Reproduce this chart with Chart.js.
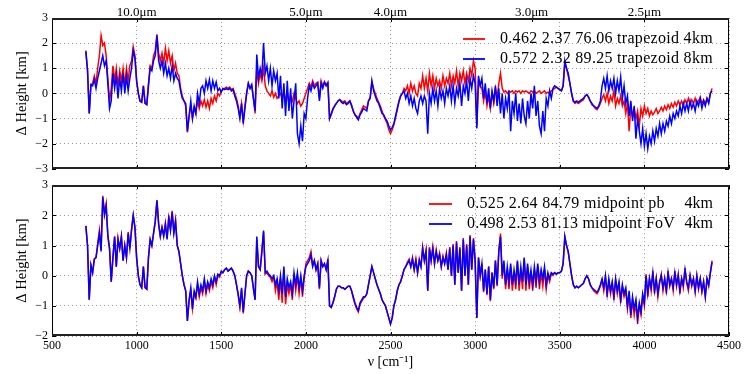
<!DOCTYPE html>
<html><head><meta charset="utf-8">
<script src="https://cdn.jsdelivr.net/npm/chart.js@4/dist/chart.umd.min.js"></script>
<style>
html,body{margin:0;padding:0;background:#fff;}
#wrap{position:relative;width:747px;height:374px;background:#fff;overflow:hidden;}
#c1{position:absolute;left:0;top:0;width:747px;height:180px;}
#c2{position:absolute;left:0;top:174px;width:747px;height:200px;}
</style></head><body>
<div id="wrap"><canvas id="c1" width="747" height="180"></canvas><canvas id="c2" width="747" height="200"></canvas></div>
<script>
// sampling grid of wavenumbers [cm^-1]
const wavenumbers = Array.from({length: 371}, (_, i) => 700 + 10 * i);
// top axis: wavelength ticks [um]
const micronTicks = [10.0, 5.0, 4.0, 3.0, 2.5];

// Top panel
const topRedLabel = '0.462 2.37 76.06 trapezoid 4km';
const topRed = [
 1.65,0.9,-0.8,0.35,0.4,0.7,0.4,1.0,1.5,2.3,
 1.9,2.0,1.5,0.6,-0.3,0.2,1.1,0.5,1.0,0.3,
 0.9,0.5,1.0,0.3,1.0,0.5,1.1,1.3,1.85,1.5,
 0.5,0.0,-0.3,-0.35,0.3,-0.4,-0.45,0.4,1.1,1.0,
 1.5,1.7,2.35,1.6,1.3,1.6,1.2,1.8,1.3,1.7,
 1.2,1.5,0.9,1.2,0.8,0.7,0.2,-0.1,-0.3,-0.5,
 -1.55,-0.9,-0.5,-1.0,-0.6,-0.8,-0.3,-0.6,-0.3,-0.5,
 -0.25,-0.55,-0.3,-0.6,-0.2,-0.4,-0.1,-0.3,0.0,-0.1,
 0.1,0.15,0.2,0.25,0.2,0.25,0.15,0.2,0.0,-0.2,
 -0.5,-0.9,-0.4,-1.1,-0.5,0.0,0.4,0.2,0.3,-0.2,
 -0.8,1.0,0.4,0.8,0.5,1.0,0.3,0.1,0.0,-0.1,
 0.1,-0.15,0.0,-0.2,-0.1,0.0,-0.2,0.1,-0.3,0.0,
 -0.4,-0.1,-0.3,0.0,-0.2,-0.4,-0.3,-0.5,-0.4,-0.2,
 0.0,0.2,0.4,0.25,0.5,0.3,0.4,0.45,-0.2,0.5,
 0.3,0.45,0.35,0.45,-1.0,-0.85,-0.65,-0.5,-0.4,-0.3,
 -0.25,-0.3,-0.35,-0.3,-0.4,-0.35,-0.3,-0.45,-0.7,-0.85,
 -0.9,-1.0,-0.8,-0.65,-0.5,-0.55,-0.6,-0.3,-0.15,0.45,
 0.2,0.0,-0.2,-0.35,-0.5,-0.7,-0.9,-1.05,-1.2,-1.45,
 -1.6,-1.45,-1.25,-0.95,-0.65,-0.35,-0.1,0.0,0.2,0.1,
 0.3,0.0,0.4,0.1,0.3,0.0,-0.1,0.4,0.2,0.7,
 0.2,0.6,0.1,0.8,0.3,0.7,0.2,0.6,0.3,0.5,
 0.2,0.7,0.3,0.6,0.4,0.8,0.3,0.7,0.4,0.9,
 0.3,0.8,0.5,0.9,0.4,0.8,0.5,1.0,0.7,1.3,
 1.0,-1.3,0.5,0.3,0.2,-0.3,0.1,-0.5,-0.1,-0.6,
 0.0,-0.4,0.2,-0.2,0.4,0.8,0.2,0.05,0.1,0.0,
 0.1,0.05,0.1,0.0,0.1,0.05,0.1,0.0,0.1,0.05,
 0.1,0.05,0.0,0.1,0.05,0.1,0.0,0.05,0.1,0.0,
 0.05,0.1,0.0,0.05,0.0,0.1,0.15,0.2,0.25,0.2,
 0.15,0.1,0.3,1.2,1.0,0.7,0.4,0.0,-0.3,-0.4,
 -0.35,-0.4,-0.35,-0.3,-0.25,-0.1,-0.05,-0.15,-0.3,-0.45,
 -0.5,-0.6,-0.65,-0.55,-0.4,-0.2,-0.05,-0.3,0.0,-0.4,
 -0.1,-0.3,0.1,-0.5,-0.2,-0.4,-0.1,-0.5,-0.3,-0.8,
 -0.4,-1.5,-0.5,-0.9,-0.6,-1.0,-0.7,-1.3,-0.6,-0.9,
 -0.5,-0.8,-0.6,-0.9,-0.7,-0.85,-0.75,-0.6,-0.8,-0.7,
 -0.55,-0.7,-0.5,-0.65,-0.45,-0.6,-0.4,-0.55,-0.35,-0.5,
 -0.3,-0.45,-0.3,-0.5,-0.25,-0.4,-0.2,-0.45,-0.25,-0.4,
 -0.2,-0.45,-0.3,-0.15,-0.4,-0.25,-0.4,-0.2,-0.35,0.0,
 0.2
];
const topBlueLabel = '0.572 2.32 89.25 trapezoid 8km';
const topBlue = [
 1.7,0.9,-0.8,0.35,0.3,0.55,0.2,0.6,0.9,1.2,
 1.5,1.1,1.3,0.4,-0.6,-0.3,0.8,0.2,0.7,-0.2,
 0.6,0.1,0.8,0.0,0.7,0.1,0.6,1.0,1.7,1.4,
 0.5,0.0,-0.3,-0.35,0.3,-0.4,-0.45,0.3,1.0,0.9,
 1.3,1.5,2.3,1.3,1.0,1.3,0.8,1.2,0.7,1.0,
 0.6,1.1,0.5,0.8,0.6,0.5,0.1,-0.2,-0.3,-0.4,
 -1.5,-0.9,-0.3,-1.0,-0.5,-0.8,0.0,-0.4,0.2,0.3,
 0.0,0.5,0.2,0.55,0.1,0.5,0.2,0.45,0.1,0.2,
 0.05,0.2,0.15,0.2,0.15,0.2,0.1,0.15,-0.1,-0.3,
 -0.6,-1.0,-0.4,-1.2,-0.6,0.0,0.4,0.2,0.35,-0.2,
 -0.7,1.55,0.6,1.0,0.7,2.0,0.8,1.1,0.5,1.0,
 0.3,0.9,0.5,0.8,-0.2,0.7,-0.6,0.4,-0.9,0.5,
 -0.7,0.2,-1.0,-0.3,0.4,-1.6,-2.0,-1.3,-1.9,-0.8,
 -1.0,-0.2,0.3,0.1,0.4,0.2,0.3,0.4,-0.3,0.4,
 0.2,0.45,0.3,0.4,-1.0,-0.8,-0.6,-0.5,-0.4,-0.3,
 -0.25,-0.35,-0.4,-0.35,-0.45,-0.4,-0.3,-0.5,-0.7,-0.85,
 -0.95,-1.05,-0.85,-0.75,-0.6,-0.65,-0.7,-0.3,-0.2,0.5,
 0.1,-0.1,-0.3,-0.4,-0.6,-0.8,-0.85,-1.0,-1.1,-1.3,
 -1.45,-1.35,-1.2,-0.9,-0.6,-0.3,-0.1,0.0,0.1,-0.2,
 0.0,-0.4,-0.1,-0.5,-0.2,-0.6,-0.8,-0.3,-0.1,-0.4,
 -0.1,-0.3,-1.6,0.0,-0.4,0.2,-0.3,0.1,-0.5,0.2,
 -0.2,0.1,-0.4,0.2,-0.1,0.3,-0.3,0.3,-0.4,0.2,
 -0.1,0.4,-0.5,0.3,0.0,0.5,-0.3,0.6,0.2,0.7,
 0.4,-1.4,0.7,0.3,0.6,-0.2,0.4,-0.4,0.2,-0.6,
 0.1,-0.3,0.3,-0.5,0.2,-0.8,0.0,-1.0,-0.2,-0.6,
 0.1,-1.5,-0.3,-0.8,0.0,-1.1,-0.4,-1.2,-0.2,-0.9,
 -1.2,-0.3,-1.0,0.0,-0.6,0.3,-0.9,-0.3,-1.3,-1.6,
 -0.7,-1.5,-0.2,-0.5,0.1,-0.2,0.2,0.3,0.25,0.2,
 0.15,0.1,0.3,1.3,1.0,0.8,0.4,0.0,-0.3,-0.35,
 -0.3,-0.35,-0.3,-0.25,-0.2,-0.1,-0.05,-0.15,-0.3,-0.4,
 -0.5,-0.55,-0.6,-0.5,-0.3,0.3,0.6,0.2,0.7,0.1,
 0.5,0.2,0.6,0.0,0.5,0.1,0.65,-0.2,0.3,-0.4,
 -0.1,-0.9,-0.3,-1.1,-0.5,-1.8,-1.0,-1.5,-2.0,-1.4,
 -2.1,-1.6,-2.2,-1.7,-2.0,-1.5,-1.9,-1.4,-1.7,-1.2,
 -1.6,-1.2,-1.5,-1.1,-1.3,-0.9,-1.2,-0.8,-1.0,-0.7,
 -0.9,-0.5,-0.8,-0.4,-0.7,-0.4,-0.7,-0.3,-0.6,-0.4,
 -0.7,-0.3,-0.5,-0.2,-0.6,-0.3,-0.5,-0.2,-0.4,0.0,
 0.1
];

// Bottom panel
const botRedLabel = '0.525 2.64 84.79 midpoint pb    4km';
const botRed = [
 1.65,1.0,-0.8,0.35,0.1,0.55,0.6,1.05,1.5,0.85,
 2.65,2.1,2.4,1.35,0.9,-0.2,0.6,1.3,0.3,1.25,
 0.9,1.3,0.5,1.0,0.6,1.45,0.9,1.55,2.0,1.6,
 0.6,0.0,-0.3,-0.4,0.3,-0.4,-0.45,0.6,1.2,1.0,
 1.4,1.8,2.5,1.75,1.3,1.6,1.35,1.75,1.25,2.0,
 1.55,2.15,1.45,1.85,1.0,0.8,0.4,0.0,-0.3,-0.5,
 -1.5,-0.85,-0.5,-1.1,-0.6,-0.75,-0.3,-0.7,-0.4,-0.6,
 -0.2,-0.6,-0.3,-0.5,-0.2,-0.4,-0.05,-0.3,0.0,-0.05,
 0.1,0.1,0.2,0.25,0.15,0.2,0.25,0.15,0.0,-0.3,
 -0.65,-1.05,-0.45,-1.25,-0.6,0.0,0.15,0.1,0.0,-0.45,
 -0.8,1.2,0.3,0.2,0.8,1.45,0.05,0.1,0.0,-0.05,
 -0.2,-0.05,-0.5,-0.2,-0.8,-0.1,-0.9,0.2,-0.95,-0.3,
 -0.6,-0.3,-0.8,0.0,-0.5,0.0,-0.6,-0.1,-0.7,-0.1,
 0.4,0.5,0.6,0.8,0.35,0.5,0.2,0.4,-0.45,0.5,
 0.3,0.4,0.2,0.55,-1.0,-1.05,-0.9,-0.7,-0.45,-0.35,
 -0.35,-0.4,-0.4,-0.45,-0.4,-0.35,-0.35,-0.5,-0.75,-0.95,
 -1.1,-1.2,-0.95,-0.85,-0.75,-0.7,-0.6,-0.3,0.0,0.3,
 0.1,-0.1,-0.3,-0.45,-0.6,-0.8,-0.9,-1.0,-1.2,-1.4,
 -1.6,-1.4,-1.0,-0.8,-0.5,-0.3,-0.2,0.0,0.2,0.3,
 0.45,0.55,0.3,0.6,0.2,0.55,0.1,0.55,0.3,0.95,
 0.5,0.85,-0.5,0.95,0.5,0.95,0.4,0.85,0.5,0.75,
 0.3,0.65,0.4,0.75,0.2,0.95,0.0,1.05,-0.3,1.15,
 0.1,0.95,-0.5,1.25,0.0,1.05,-0.3,1.35,0.2,1.25,
 0.5,-1.4,0.6,0.0,0.4,-0.55,0.2,-0.65,0.3,-0.85,
 0.1,-0.45,0.5,-0.35,0.85,1.4,-0.1,0.4,-0.45,0.2,
 -0.45,0.3,-0.5,0.1,-0.45,0.45,-0.5,0.2,-0.45,0.55,
 -0.5,0.3,-0.45,0.1,-0.5,0.2,-0.4,0.3,-0.45,0.1,
 -0.35,0.2,-0.45,0.0,-0.2,0.05,0.0,0.1,0.05,0.1,
 0.1,0.15,0.4,1.3,1.0,0.8,0.4,0.0,-0.3,-0.4,
 -0.35,-0.4,-0.35,-0.3,-0.25,-0.1,0.0,-0.1,-0.3,-0.4,
 -0.5,-0.55,-0.6,-0.5,-0.35,-0.15,-0.5,-0.05,-0.7,-0.2,
 -0.6,-0.25,-0.8,-0.15,-0.6,-0.3,-0.9,-0.35,-0.7,-0.5,
 -1.1,-0.6,-1.4,-0.8,-1.3,-0.9,-1.6,-1.0,-1.3,-0.7,
 -1.0,0.05,-0.7,-0.1,-0.5,0.15,-0.6,-0.1,-0.7,-0.25,
 0.05,-0.5,-0.1,-0.6,0.15,-0.35,-0.1,-0.5,0.15,-0.35,
 0.05,-0.6,-0.1,-0.4,0.25,-0.25,-0.5,0.0,-0.35,-0.1,
 -0.55,0.0,-0.45,-0.1,-0.55,-0.2,-0.7,-0.1,-0.35,0.1,
 0.5
];
const botBlueLabel = '0.498 2.53 81.13 midpoint FoV    4km';
const botBlue = [
 1.65,1.0,-0.8,0.35,0.1,0.55,0.6,1.0,1.4,0.8,
 2.6,2.0,2.3,1.3,0.9,-0.2,0.6,1.3,0.3,1.2,
 0.9,1.3,0.5,1.0,0.6,1.4,0.9,1.5,2.0,1.6,
 0.6,0.0,-0.3,-0.4,0.3,-0.4,-0.45,0.6,1.2,1.0,
 1.4,1.8,2.5,1.7,1.3,1.6,1.3,1.7,1.2,1.9,
 1.5,2.1,1.4,1.8,1.0,0.8,0.4,0.0,-0.3,-0.5,
 -1.5,-0.8,-0.4,-1.1,-0.5,-0.7,-0.2,-0.6,-0.3,-0.5,
 -0.1,-0.5,-0.2,-0.4,-0.1,-0.3,0.0,-0.2,0.05,0.0,
 0.15,0.1,0.2,0.25,0.15,0.2,0.25,0.15,0.0,-0.3,
 -0.6,-1.0,-0.4,-1.2,-0.6,0.0,0.15,0.1,0.0,-0.4,
 -0.8,1.3,0.3,0.2,0.8,1.5,0.1,0.15,0.05,0.0,
 -0.1,0.0,-0.3,-0.1,-0.5,0.0,-0.6,0.3,-0.7,-0.1,
 -0.4,-0.2,-0.6,0.1,-0.3,0.1,-0.4,0.0,-0.5,0.0,
 0.3,0.4,0.5,0.7,0.3,0.5,0.2,0.4,-0.4,0.5,
 0.3,0.4,0.2,0.5,-1.0,-1.05,-0.9,-0.7,-0.45,-0.35,
 -0.35,-0.4,-0.4,-0.45,-0.4,-0.35,-0.35,-0.5,-0.7,-0.9,
 -1.05,-1.15,-0.9,-0.8,-0.7,-0.7,-0.6,-0.3,0.0,0.3,
 0.1,-0.1,-0.3,-0.45,-0.6,-0.8,-0.9,-1.0,-1.2,-1.4,
 -1.6,-1.4,-1.0,-0.8,-0.5,-0.3,-0.2,0.0,0.2,0.3,
 0.4,0.5,0.3,0.55,0.2,0.5,0.1,0.5,0.3,0.9,
 0.5,0.8,-0.5,0.9,0.5,0.9,0.4,0.8,0.5,0.7,
 0.3,0.6,0.4,0.7,0.2,0.9,0.0,1.0,-0.3,1.1,
 0.1,0.9,-0.5,1.2,0.0,1.0,-0.3,1.3,0.2,1.2,
 0.5,-1.4,0.6,0.0,0.4,-0.5,0.2,-0.6,0.3,-0.8,
 0.1,-0.4,0.5,-0.3,0.8,1.3,0.0,0.5,-0.3,0.3,
 -0.2,0.4,-0.3,0.2,-0.2,0.5,-0.3,0.3,-0.2,0.6,
 -0.3,0.4,-0.2,0.2,-0.3,0.3,-0.2,0.4,-0.2,0.2,
 -0.1,0.3,-0.3,0.1,-0.1,0.1,0.05,0.1,0.05,0.1,
 0.1,0.15,0.4,1.3,1.0,0.8,0.4,0.0,-0.3,-0.4,
 -0.35,-0.4,-0.35,-0.3,-0.25,-0.1,0.0,-0.1,-0.3,-0.4,
 -0.45,-0.5,-0.55,-0.45,-0.3,-0.1,-0.4,0.0,-0.6,-0.1,
 -0.5,-0.2,-0.7,-0.1,-0.5,-0.2,-0.8,-0.3,-0.6,-0.4,
 -1.0,-0.5,-1.3,-0.7,-1.1,-0.8,-1.4,-0.9,-1.2,-0.6,
 -0.9,0.0,-0.6,-0.1,-0.4,0.1,-0.5,-0.1,-0.6,-0.2,
 0.0,-0.4,-0.1,-0.5,0.1,-0.3,-0.1,-0.4,0.1,-0.3,
 0.0,-0.5,-0.1,-0.3,0.2,-0.2,-0.4,0.0,-0.3,-0.1,
 -0.5,0.0,-0.4,-0.1,-0.5,-0.2,-0.7,-0.1,-0.3,0.1,
 0.45
];

const FONT = "'Liberation Serif', 'Times New Roman', serif";
Chart.defaults.font.family = FONT;
Chart.defaults.color = '#000';
const GRID = '#9a9a9a';
const fmt = v => v < 0 ? '\u2212' + Math.abs(v) : String(v);
const pts = arr => arr.map((y, i) => ({x: wavenumbers[i], y}));

function ds(label, arr, color, order) {
  return {label, data: pts(arr), borderColor: color, backgroundColor: color,
    borderWidth: 1.5, pointRadius: 0, tension: 0, fill: false, order};
}

const framePlugin = {
  id: 'frame',
  afterDatasetsDraw(chart, args, o) {
    const {ctx, chartArea: a, scales} = chart;
    ctx.save();
    ctx.strokeStyle = '#000';
    ctx.lineWidth = 1;
    const L = 4;
    const seg = (x0, y0, x1, y1) => { ctx.beginPath(); ctx.moveTo(x0, y0); ctx.lineTo(x1, y1); ctx.stroke(); };
    scales.y.ticks.forEach(t => {
      const y = Math.round(scales.y.getPixelForValue(t.value)) + 0.5;
      seg(a.left, y, a.left + L, y); seg(a.right, y, a.right - L, y);
    });
    scales.x.ticks.forEach(t => {
      const x = Math.round(scales.x.getPixelForValue(t.value)) + 0.5;
      seg(x, a.bottom, x, a.bottom - L);
      if (!scales.xTop) seg(x, a.top, x, a.top + L);
    });
    if (scales.xTop) scales.xTop.ticks.forEach(t => {
      const x = Math.round(scales.xTop.getPixelForValue(t.value)) + 0.5;
      seg(x, a.top, x, a.top + L);
    });
    const l = Math.round(a.left), r = Math.round(a.right), t = Math.round(a.top), b = Math.round(a.bottom);
    seg(l + 0.5, t, l + 0.5, b); seg(r - 0.5, t, r - 0.5, b);
    ctx.lineWidth = 2; ctx.strokeStyle = '#222';
    seg(l, t + 1, r, t + 1); seg(l, b - 1, r, b - 1);
    // legend (no frame)
    ctx.font = o.size + 'px ' + FONT;
    ctx.textBaseline = 'middle';
    chart.data.datasets.forEach((d, i) => {
      const y = o.rows[i];
      ctx.strokeStyle = d.borderColor; ctx.lineWidth = 1.8;
      seg(o.x0, y, o.x1, y);
      ctx.fillStyle = '#000';
      const parts = d.label.split(/\s{2,}/);
      const ends = o.ends[i];
      ctx.textAlign = 'left';
      if ('letterSpacing' in ctx) ctx.letterSpacing = '0px';
      const w = ctx.measureText(parts[0]).width;
      if ('letterSpacing' in ctx) ctx.letterSpacing = ((ends[0] - o.tx - w) / parts[0].length).toFixed(2) + 'px';
      ctx.fillText(parts[0], o.tx, y);
      if ('letterSpacing' in ctx) ctx.letterSpacing = '0px';
      if (parts.length > 1) { ctx.textAlign = 'right'; ctx.fillText(parts[1], ends[1], y); }
    });
    ctx.restore();
  }
};

const yTitle = (pad) => ({display: true, text: '\u0394 Height [km]', font: {size: 14.5, family: FONT}, padding: {top: pad, bottom: 0}, color: '#000'});
const tickFont = {size: 12, family: FONT};

// top chart
new Chart(document.getElementById('c1'), {
  type: 'line',
  data: {datasets: [ds(topRedLabel, topRed, '#ff0000', 2), ds(topBlueLabel, topBlue, '#0000ff', 1)]},
  options: {
    responsive: false, animation: false, events: [],
    layout: {padding: {left: 0, right: 18, top: 0, bottom: 0}},
    plugins: {legend: {display: false}, tooltip: {enabled: false},
      frame: {size: 16, x0: 463, x1: 485, tx: 500, rows: [39, 59], ends: [[713], [713]]}},
    scales: {
      x: {type: 'linear', position: 'bottom', min: 500, max: 4500,
        ticks: {stepSize: 500, display: false},
        grid: {color: GRID, lineWidth: 1, drawTicks: false},
        border: {display: false, dash: [1, 3]},
        afterFit(s) { s.height = 10; }},
      xTop: {type: 'linear', position: 'top', min: 500, max: 4500,
        afterBuildTicks(s) { s.ticks = micronTicks.map(m => ({value: 10000 / m})); },
        ticks: {autoSkip: false, maxRotation: 0, padding: -2, font: {size: 13, family: FONT},
          callback: v => (10000 / v).toFixed(1) + '\u03bcm'},
        grid: {display: false, drawTicks: false}, border: {display: false},
        afterFit(s) { s.height = 18; }},
      y: {min: -3, max: 3,
        ticks: {stepSize: 1, padding: 4, font: tickFont, callback: v => fmt(v)},
        grid: {color: GRID, lineWidth: 1, drawTicks: false},
        border: {display: false, dash: [1, 3]},
        title: yTitle(13),
        afterFit(s) { s.width = 52; }}
    }
  },
  plugins: [framePlugin]
});

// bottom chart
new Chart(document.getElementById('c2'), {
  type: 'line',
  data: {datasets: [ds(botRedLabel, botRed, '#ff0000', 2), ds(botBlueLabel, botBlue, '#0000ff', 1)]},
  options: {
    responsive: false, animation: false, events: [],
    layout: {padding: {left: 0, right: 18, top: 11, bottom: 0}},
    plugins: {legend: {display: false}, tooltip: {enabled: false},
      frame: {size: 16, x0: 429, x1: 452, tx: 467, rows: [30, 50], ends: [[665, 713], [675, 713]]}},
    scales: {
      x: {type: 'linear', position: 'bottom', min: 500, max: 4500,
        ticks: {stepSize: 500, padding: 3, maxRotation: 0, autoSkip: false, font: tickFont, callback: v => String(v)},
        grid: {color: GRID, lineWidth: 1, drawTicks: false},
        border: {display: false, dash: [1, 3]},
        title: {display: true, text: '\u03bd [cm\u207b\u00b9]', font: {size: 14, family: FONT}, padding: {top: 0, bottom: 3}, color: '#000'},
        afterFit(s) { s.height = 38; }},
      y: {min: -2, max: 3,
        ticks: {stepSize: 1, padding: 4, font: tickFont, callback: v => fmt(v)},
        grid: {color: GRID, lineWidth: 1, drawTicks: false},
        border: {display: false, dash: [1, 3]},
        title: yTitle(13),
        afterFit(s) { s.width = 52; }}
    }
  },
  plugins: [framePlugin]
});
</script>
</body></html>
